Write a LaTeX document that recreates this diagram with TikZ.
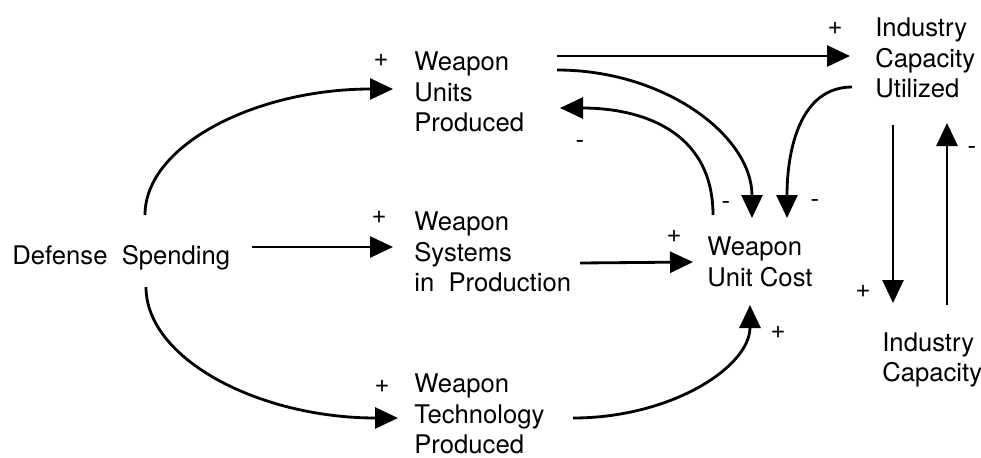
\documentclass[tikz,border=0pt]{standalone}
\usepackage{fontspec}
\setmainfont{TeX Gyre Heros}
\usetikzlibrary{arrows.meta,positioning,calc}

\begin{document}
\begin{tikzpicture}[
    x=0.02cm, y=-0.02cm,
    var/.style={inner sep=0pt, anchor=west, align=left, font=\fontsize{14.6}{17.4}\selectfont},
    sign/.style={inner sep=0pt, font=\fontsize{14.6}{17.4}\selectfont},
    arrow/.style={-{Triangle[length=0.46cm,width=0.42cm]}, line width=1.6pt}
  ]
    \useasboundingbox (0,0) rectangle (981,457);

    \node[var] (spend) at (12,258) {Defense~ Spending};
    \node[var] (units) at (414,92) {Weapon\\Units\\Produced};
    \node[var] (systems) at (414,252) {Weapon\\Systems\\in~ Production};
    \node[var] (tech) at (414,414) {Weapon\\Technology\\Produced};
    \node[var] (cost) at (707,262) {Weapon\\Unit Cost};
    \node[var] (util) at (875,58) {Industry\\Capacity\\Utilized};
    \node[var] (cap) at (882,360) {Industry\\Capacity};

    % polarity signs
    \node[sign] (s1) at (381,60) {+};
    \node[sign] (s2) at (379,217) {+};
    \node[sign] (s3) at (382,386) {+};
    \node[sign] (s4) at (835,28) {+};
    \node[sign] (s5) at (674,236) {+};
    \node[sign] (s6) at (778,332) {+};
    \node[sign] (s7) at (863,291) {+};
    \node[sign] (s8) at (580,144) {-};
    \node[sign] (s9) at (726,205) {-};
    \node[sign] (s10) at (815,203) {-};
    \node[sign] (s11) at (972,150) {-};

    \draw[arrow] ($(spend.west)+(133,-43)$) .. controls +(0,-70) and +(-137,0) .. ($(units.west)+(-21,-3)$);
    \draw[arrow] ($(spend.west)+(240,-11)$) -- ($(systems.west)+(-21,-5)$);
    \draw[arrow] ($(spend.west)+(134,29)$) .. controls +(0,72) and +(-139,0) .. ($(tech.west)+(-16,4)$);
    \draw[arrow] ($(systems.west)+(166,11)$) -- ($(cost.west)+(-14,0)$);
    \draw[arrow] ($(tech.west)+(159,4)$) .. controls +(98,0) and +(0,62) .. ($(cost.west)+(43,43)$);
    \draw[arrow] ($(units.west)+(143,-36)$) -- ($(util.west)+(-25,-2)$);
    \draw[arrow] ($(units.west)+(143,-22)$) .. controls +(108,0) and +(0,-82) .. ($(cost.west)+(45,-44)$);
    \draw[arrow] ($(cost.west)+(6,-47)$) .. controls +(0,-85) and +(80,0) .. ($(units.west)+(146,16)$);
    \draw[arrow] ($(util.west)+(-23,29)$) .. controls +(-52,0) and +(0,-68) .. ($(cost.west)+(80,-44)$);
    \draw[arrow] ($(util.west)+(18,67)$) -- ($(cap.west)+(11,-57)$);
    \draw[arrow] ($(cap.west)+(65,-55)$) -- ($(util.west)+(72,65)$);
  \end{tikzpicture}
\end{document}
